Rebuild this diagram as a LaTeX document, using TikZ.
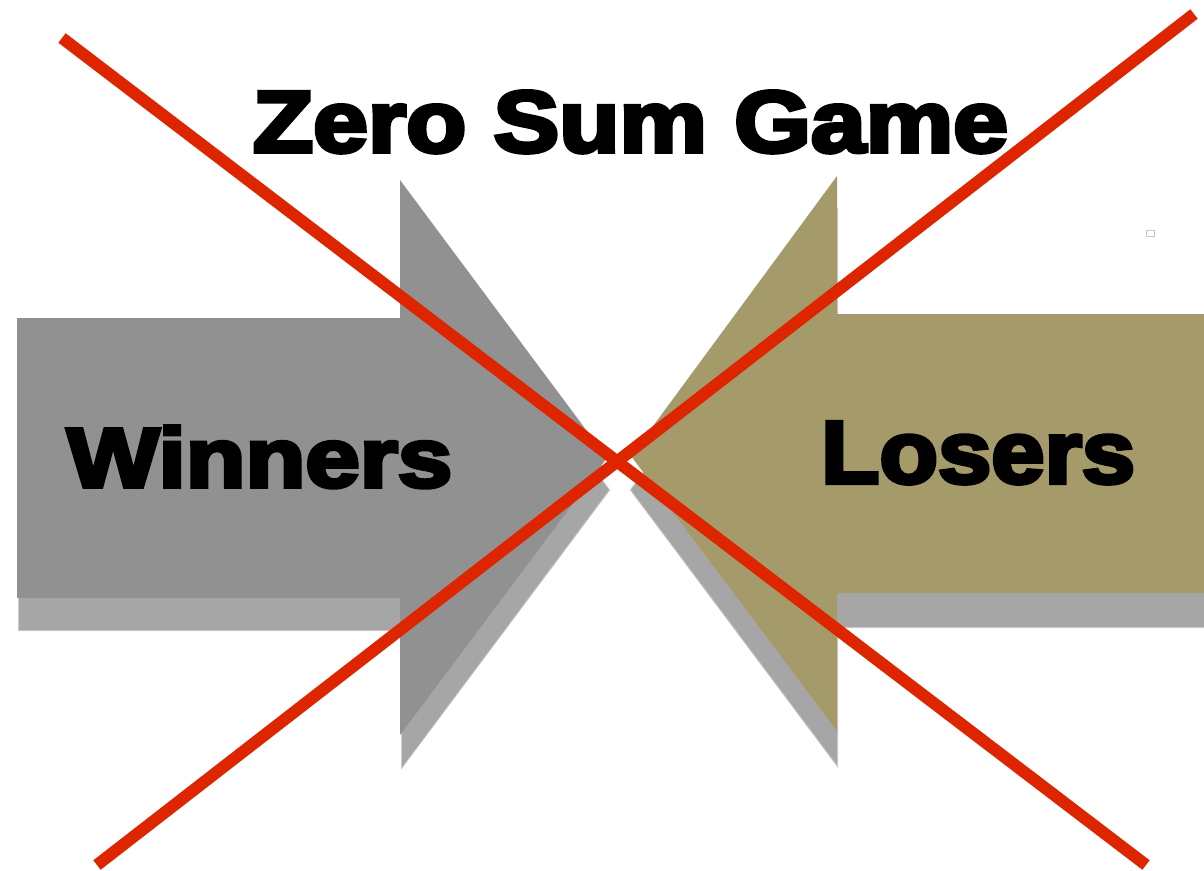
\documentclass[tikz,border=0pt]{standalone}
\usepackage{fontspec}
\newfontfamily\heavy[BoldFeatures={FakeBold=4.5}]{Liberation Sans}
\definecolor{wingray}{RGB}{145,145,145}
\definecolor{losekhaki}{RGB}{165,154,106}
\definecolor{shadowgray}{RGB}{166,166,166}
\definecolor{crossred}{RGB}{221,38,0}
\tikzset{
  arrowshape/.style={fill=#1, draw=none},
  label/.style={inner sep=0pt, outer sep=0pt, text=black},
  crossline/.style={draw=crossred, line width=12pt, line cap=butt}
}
\begin{document}
\begin{tikzpicture}[x=1pt,y=-1pt]
\useasboundingbox (0,0) rectangle (1204,870);
\fill[white] (0,0) rectangle (1204,870);
% shadows (soft edge)
\path[draw=shadowgray!55, line width=2pt, shift={(2,32)}] (17,318) -- (400,318) -- (400,180) -- (607,458) -- (400,735) -- (400,598) -- (17,598) -- cycle;
\path[draw=shadowgray!55, line width=2pt, shift={(0,34)}] (1204,314) -- (837,314) -- (837,176) -- (631,456) -- (837,731) -- (837,593) -- (1204,593) -- cycle;
\path[arrowshape=shadowgray, shift={(2,32)}] (17,318) -- (400,318) -- (400,180) -- (607,458) -- (400,735) -- (400,598) -- (17,598) -- cycle;
\path[arrowshape=shadowgray, shift={(0,34)}] (1204,314) -- (837,314) -- (837,176) -- (631,456) -- (837,731) -- (837,593) -- (1204,593) -- cycle;
% arrows
\path[arrowshape=wingray] (17,318) -- (400,318) -- (400,180) -- (607,458) -- (400,735) -- (400,598) -- (17,598) -- cycle;
\path[arrowshape=losekhaki] (1204,314) -- (837,314) -- (837,176) -- (631,456) -- (837,731) -- (837,593) -- (1204,593) -- cycle;
% texts
\node[label, anchor=base west] (title) at (253,152) {\resizebox{755pt}{61pt}{\heavy\bfseries Zero Sum Game}};
\node[label, anchor=base west] (win) at (67,487) {\resizebox{385pt}{61pt}{\heavy\bfseries Winners}};
\node[label, anchor=base west] (lose) at (821,483) {\resizebox{314pt}{61pt}{\heavy\bfseries Losers}};
% small mark
\draw[gray!45, line width=1pt] (1146,230) rectangle (1154,236);
% red cross
\coordinate (a1) at (62,38);
\coordinate (a2) at (1146,865);
\coordinate (b1) at (1194,14);
\coordinate (b2) at (97,865);
\draw[crossline] (a1) -- (a2);
\draw[crossline] (b1) -- (b2);
\end{tikzpicture}
\end{document}
